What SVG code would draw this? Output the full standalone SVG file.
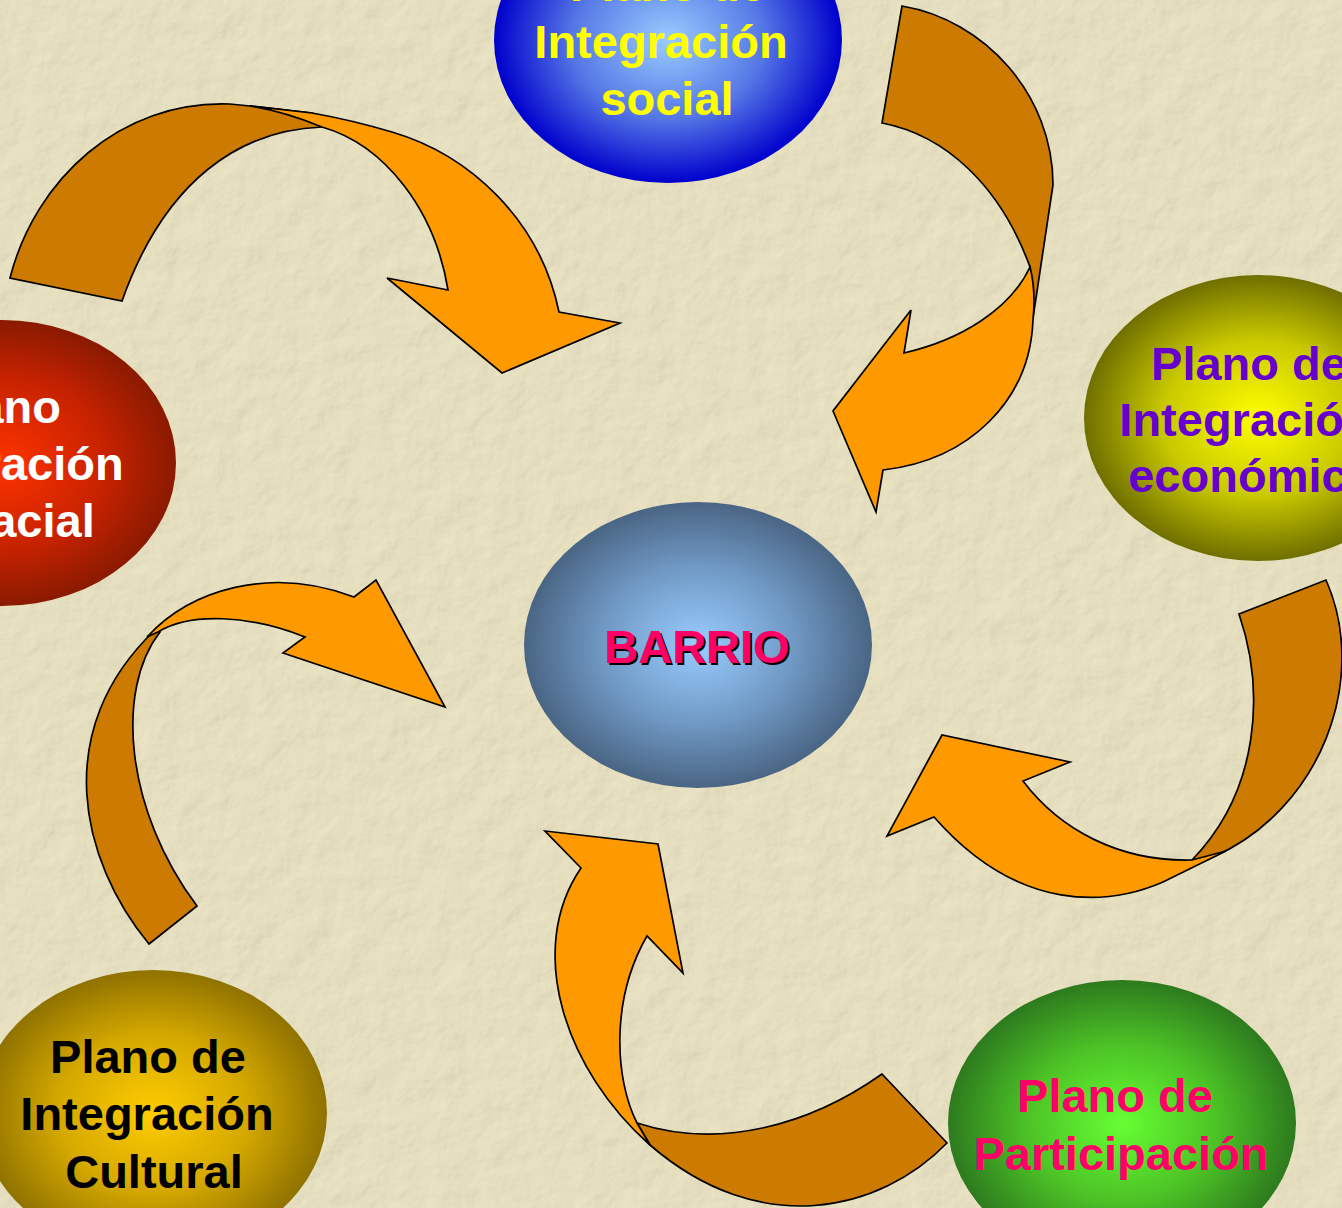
<svg xmlns="http://www.w3.org/2000/svg" width="1342" height="1208" viewBox="0 0 1342 1208">
<style>
.t{font-family:"Liberation Sans",Arial,sans-serif;font-weight:bold;font-size:47px;text-anchor:middle}
.back{fill:#CC7A00;stroke:#000;stroke-width:1.7;stroke-linejoin:miter}
.front{fill:#FF9900;stroke:#000;stroke-width:1.7;stroke-linejoin:miter}
</style>
<defs>
<filter id="paper" x="0" y="0" width="100%" height="100%">
<feTurbulence type="fractalNoise" baseFrequency="0.035" numOctaves="4" seed="7" result="n"/>
<feDiffuseLighting in="n" lighting-color="#EFE8C8" surfaceScale="1.3" diffuseConstant="1">
<feDistantLight azimuth="45" elevation="65"/>
</feDiffuseLighting>
</filter>
<radialGradient id="gBlue"><stop offset="0" stop-color="#99CCFF"/><stop offset="0.55" stop-color="#5577E6"/><stop offset="1" stop-color="#0000CC"/></radialGradient>
<radialGradient id="gBarrio"><stop offset="0" stop-color="#99CCFF"/><stop offset="0.55" stop-color="#7099C4"/><stop offset="1" stop-color="#4A6584"/></radialGradient>
<radialGradient id="gRed"><stop offset="0" stop-color="#FF3300"/><stop offset="0.6" stop-color="#C62200"/><stop offset="1" stop-color="#8A1A00"/></radialGradient>
<radialGradient id="gOlive"><stop offset="0" stop-color="#FFFF00"/><stop offset="0.55" stop-color="#C8C800"/><stop offset="1" stop-color="#6F6F00"/></radialGradient>
<radialGradient id="gGold"><stop offset="0" stop-color="#FFCC00"/><stop offset="0.55" stop-color="#D4A800"/><stop offset="1" stop-color="#8F7200"/></radialGradient>
<radialGradient id="gGreen"><stop offset="0" stop-color="#66FF33"/><stop offset="0.55" stop-color="#4CC226"/><stop offset="1" stop-color="#2D7A1E"/></radialGradient>
</defs>
<rect x="0" y="0" width="1342" height="1208" fill="#E6DEBD"/>
<rect x="0" y="0" width="1342" height="1208" filter="url(#paper)"/>

<g id="connectors">
<g id="arrow-espacial-barrio">
<path class="back" d="M10,278 C35,180 120,100 230,104 L250,106 L312,113 L322,127 C240,130 165,180 122,301 Z"/>
<path class="front" d="M250,106 L312,113 C340,118 365,124 392,132 C470,155 540,220 559,312 L620,323 L502,373 L387,278 L448,290 C435,210 385,145 322,127 C300,118 275,110 250,106 Z"/>
</g>
<g id="arrow-social-barrio">
<path class="back" d="M902,6 C985,20 1053,95 1053,185 L1033,318 L1030,267 C1000,185 945,135 882,123 Z"/>
<path class="front" d="M1030,267 C1036,290 1034,310 1033,320 C1030,400 970,460 883,470 L876,512 L833,411 L911,310 L904,353 C960,340 1010,310 1030,267 Z"/>
</g>
<g id="arrow-economica-barrio">
<path class="back" d="M1326,580 C1370,680 1320,810 1213,857 L1192,860 C1260,790 1265,690 1239,614 Z"/>
<path class="front" d="M1226,851 L1163,882 C1110,905 1020,915 934,817 L887,836 L942,735 L1070,762 L1023,781 C1060,830 1120,862 1192,860 Z"/>
</g>
<g id="arrow-participacion-barrio">
<path class="back" d="M882,1074 L947,1143 C880,1212 760,1240 650,1145 L637,1123 C720,1150 810,1125 882,1074 Z"/>
<path class="front" d="M650,1145 C565,1070 525,950 581,868 L545,831 L658,844 L683,973 L647,936 C610,1000 615,1080 637,1123 Z"/>
</g>
<g id="arrow-cultural-barrio">
<path class="back" d="M149,944 C80,860 50,730 155,630 L160,632 C115,690 125,810 197,906 Z"/>
<path class="front" d="M147,637 C190,590 270,565 354,597 L376,580 L445,707 L283,653 L305,637 C250,615 190,612 158,632 Z"/>
</g>
</g>

<g id="node-social">
<ellipse cx="668" cy="40" rx="174" ry="143" fill="url(#gBlue)"/>
<text class="t" x="668" y="1" fill="#FFFF00">Plano de</text>
<text class="t" x="661" y="58" fill="#FFFF00">Integración</text>
<text class="t" x="667" y="115" fill="#FFFF00">social</text>
</g>
<g id="node-espacial">
<ellipse cx="2" cy="463" rx="174" ry="143" fill="url(#gRed)"/>
<text class="t" x="-3" y="423" fill="#FFFFFF">Plano</text>
<text class="t" x="-3" y="480" fill="#FFFFFF">Integración</text>
<text class="t" x="2" y="537" fill="#FFFFFF">espacial</text>
</g>
<g id="node-economica">
<ellipse cx="1258" cy="418" rx="174" ry="143" fill="url(#gOlive)"/>
<text class="t" x="1249" y="380" fill="#6600CC">Plano de</text>
<text class="t" x="1246" y="436" fill="#6600CC">Integración</text>
<text class="t" x="1251" y="492" fill="#6600CC">económica</text>
</g>
<g id="node-barrio">
<ellipse cx="698" cy="645" rx="174" ry="143" fill="url(#gBarrio)"/>
<text class="t" x="699" y="665" fill="#000000">BARRIO</text>
<text class="t" x="697" y="663" fill="#FF0066">BARRIO</text>
</g>
<g id="node-cultural">
<ellipse cx="153" cy="1113" rx="174" ry="143" fill="url(#gGold)"/>
<text class="t" x="148" y="1073" fill="#000000">Plano de</text>
<text class="t" x="147" y="1130" fill="#000000">Integración</text>
<text class="t" x="154" y="1188" fill="#000000">Cultural</text>
</g>
<g id="node-participacion">
<ellipse cx="1122" cy="1123" rx="174" ry="143" fill="url(#gGreen)"/>
<text class="t" x="1115" y="1112" fill="#FF0066">Plano de</text>
<text class="t" x="1121" y="1170" fill="#FF0066">Participación</text>
</g>
</svg>
